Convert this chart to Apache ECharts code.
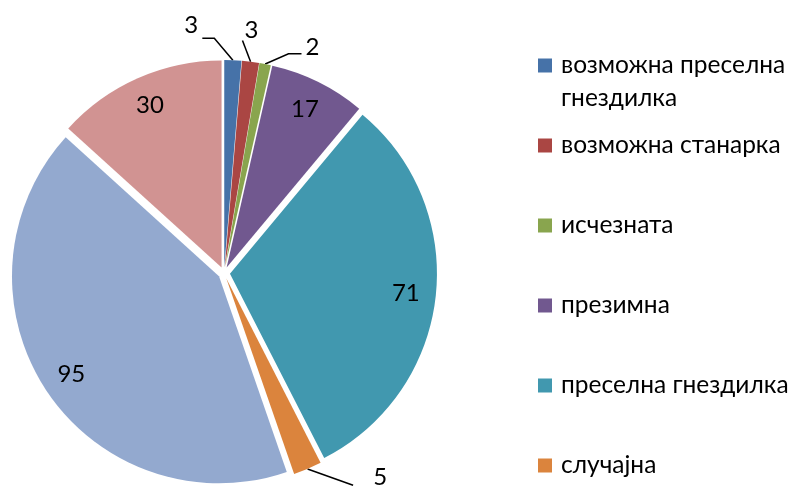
<!DOCTYPE html>
<html>
<head>
<meta charset="utf-8">
<style>
  html, body { margin: 0; padding: 0; background: #ffffff; }
  #chart { width: 788px; height: 486px; }
</style>
<script src="https://cdn.jsdelivr.net/npm/echarts@6/dist/echarts.min.js"></script>
</head>
<body>
<div id="chart"></div>
<script>
// Bird species by status
const categories = [
  'возможна преселна гнездилка',
  'возможна станарка',
  'исчезната',
  'презимна',
  'преселна гнездилка',
  'случајна',
  'станарка',
  'транзитна'
];
const counts = [3, 3, 2, 17, 71, 5, 95, 30];
const sliceColors = ['#4672A8', '#AA4643', '#89A54E', '#71588F', '#4198AF', '#DB843D', '#93A9CF', '#D19392'];

// Pie geometry (pixels)
const CX = 224, CY = 273, R = 207, EXPLODE = 6;
const FONT = 'Lato, "Open Sans", sans-serif';

// Slices whose value is printed inside the sector
const insideLabel = [false, false, false, true, true, false, true, true];
const INSIDE_R = 183;
// Outside labels: angle shift from slice middle (deg), distance from centre,
// then leader-line elbow and end offsets relative to the label point
const outsideLabel = {
  0: { shift: -9.9, r: 250, elbow: [23, 13], end: [11, 13] },
  1: { shift: -0.7, r: 244, elbow: [-9, 10], end: [-9, 10] },
  2: { shift: 10.3, r: 242, elbow: [-24, 6], end: [-11, 6] },
  5: { shift: -14.3, r: 257, elbow: [-27, 8], end: [-27, 8] }
};

const total = counts.reduce((a, b) => a + b, 0);
function midAngle(i) {
  let before = 0;
  for (let k = 0; k < i; k++) before += counts[k];
  return (before + counts[i] / 2) / total * 360;
}
function polar(angleDeg, r) {
  const a = angleDeg * Math.PI / 180;
  return [CX + r * Math.sin(a), CY - r * Math.cos(a)];
}

// Exploded slices (all selected, pushed outward)
const sliceData = categories.map((name, i) => ({
  name: name,
  value: counts[i],
  selected: true,
  itemStyle: { color: sliceColors[i] }
}));

// Same values on an invisible, unexploded pie that carries the value labels
const labelData = categories.map((name, i) => ({
  name: name,
  value: counts[i],
  label: { position: insideLabel[i] ? 'inside' : 'outside' },
  labelLine: { show: !insideLabel[i] }
}));

const chart = echarts.init(document.getElementById('chart'), null, { renderer: 'canvas' });

const legendText = {
  fontFamily: FONT,
  fontSize: 24.5,
  color: '#000000',
  lineHeight: 33
};

chart.setOption({
  animation: false,
  backgroundColor: '#ffffff',
  legend: [
    {
      orient: 'vertical',
      left: 538,
      top: 16,
      padding: 0,
      icon: 'rect',
      itemWidth: 14,
      itemHeight: 14,
      selectedMode: false,
      data: [categories[0]],
      // blank first line keeps the marker level with the first text line
      formatter: () => '\nвозможна преселна\nгнездилка',
      textStyle: Object.assign({ padding: [0, 0, 0, 4] }, legendText)
    },
    {
      orient: 'vertical',
      left: 538,
      top: 129,
      padding: 0,
      icon: 'rect',
      itemWidth: 14,
      itemHeight: 14,
      itemGap: 47,
      selectedMode: false,
      data: categories.slice(1),
      textStyle: Object.assign({ padding: [0, 0, 0, 4] }, legendText)
    }
  ],
  series: [
    {
      type: 'pie',
      center: [CX, CY],
      radius: R,
      startAngle: 90,
      clockwise: true,
      selectedMode: 'multiple',
      selectedOffset: EXPLODE,
      silent: true,
      emphasis: { disabled: true },
      label: { show: false },
      labelLine: { show: false },
      data: sliceData
    },
    {
      type: 'pie',
      center: [CX, CY],
      radius: R,
      startAngle: 90,
      clockwise: true,
      silent: true,
      avoidLabelOverlap: false,
      emphasis: { disabled: true },
      itemStyle: { color: 'rgba(0,0,0,0)' },
      label: {
        show: true,
        formatter: '{c}',
        fontFamily: FONT,
        fontSize: 24,
        color: '#000000'
      },
      labelLine: {
        show: true,
        length: 14,
        length2: 10,
        lineStyle: { color: '#000000', width: 1.5 }
      },
      labelLayout: function (params) {
        const i = params.dataIndex;
        const mid = midAngle(i);
        if (insideLabel[i]) {
          const p = polar(mid, INSIDE_R);
          return { x: p[0], y: p[1], align: 'center', verticalAlign: 'middle' };
        }
        const o = outsideLabel[i];
        const p = polar(mid + o.shift, o.r);
        const start = polar(mid, R + EXPLODE);
        return {
          x: p[0], y: p[1], align: 'center', verticalAlign: 'middle',
          labelLinePoints: [
            start,
            [p[0] + o.elbow[0], p[1] + o.elbow[1]],
            [p[0] + o.end[0], p[1] + o.end[1]]
          ]
        };
      },
      data: labelData
    }
  ]
});
</script>
</body>
</html>
